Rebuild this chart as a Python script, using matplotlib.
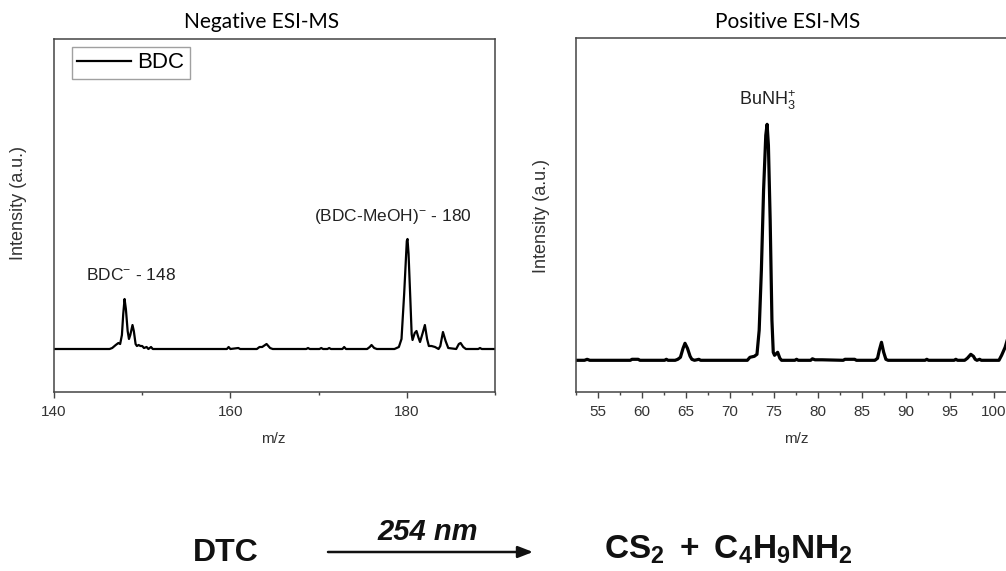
import matplotlib
matplotlib.use("Agg")
import matplotlib.pyplot as plt
from matplotlib.ticker import MultipleLocator

plt.rcParams['font.family'] = ['Liberation Sans', 'DejaVu Sans']
plt.rcParams['mathtext.fontset'] = 'custom'
plt.rcParams['mathtext.rm'] = 'Liberation Sans'
plt.rcParams['mathtext.it'] = 'Liberation Sans:italic'
plt.rcParams['mathtext.bf'] = 'Liberation Sans:bold'

# ---- Negative ESI-MS trace (m/z, relative intensity) ----
neg_mz = [140, 146.3, 146.6, 147.0, 147.3, 147.5, 147.7, 147.85, 148.0, 148.15, 148.35,
          148.5, 148.65, 148.9, 149.05, 149.25, 149.4, 149.6, 149.8, 150.0, 150.2, 150.5,
          150.7, 151.0, 151.2, 159.6, 159.8, 160.0, 160.9, 161.1, 163.0, 163.3, 163.6,
          164.1, 164.5, 164.8, 168.6, 168.8, 169.0, 170.1, 170.3, 170.5, 171.0, 171.2,
          171.4, 172.7, 172.9, 173.1, 175.5, 175.8, 176.0, 176.3, 176.6, 178.6, 179.1,
          179.4, 179.7, 180.0, 180.08, 180.2, 180.4, 180.55, 180.65, 180.9, 181.1, 181.3,
          181.5, 181.8, 182.05, 182.3, 182.5, 182.8, 183.2, 183.6, 183.8, 184.1, 184.4,
          184.7, 185.6, 185.9, 186.1, 186.4, 186.7, 188.1, 188.3, 188.5, 190]
neg_int = [0, 0, 1, 4, 6, 5, 14, 35, 50, 40, 18,
           10, 14, 24, 18, 5, 3, 4, 3, 3, 1, 2,
           0, 2, 0, 0, 2, 0, 1, 0, 0, 2, 2,
           5, 1, 0, 0, 1, 0, 0, 1, 0, 0, 1,
           0, 0, 2, 0, 0, 2, 4, 1, 0, 0, 2,
           10, 55, 108, 110, 95, 50, 15, 9, 16, 18, 12,
           7, 16, 24, 10, 3, 3, 2, 0, 3, 17, 8,
           1, 0, 5, 6, 2, 0, 0, 1, 0, 0]

# ---- Positive ESI-MS trace ----
pos_mz = [52.5, 53.5, 53.8, 54.1, 58.7, 58.9, 59.6, 59.8, 62.6, 62.8, 63.0, 63.8, 64.1,
          64.4, 64.7, 64.92, 65.2, 65.5, 65.7, 66.0, 66.5, 66.7, 72.0, 72.3, 72.8, 73.1,
          73.35, 73.6, 73.85, 74.1, 74.25, 74.4, 74.6, 74.8, 74.95, 75.1, 75.45, 75.7,
          75.9, 77.4, 77.6, 77.8, 79.2, 79.4, 79.7, 80.5, 82.9, 83.1, 84.2, 84.4, 86.5,
          86.8, 87.0, 87.25, 87.5, 87.75, 88.0, 92.2, 92.4, 92.6, 95.5, 95.7, 95.9, 96.7,
          97.0, 97.4, 97.7, 97.9, 98.1, 98.4, 98.6, 100.6, 100.9, 101.3, 101.6, 102.0, 102.5]
pos_int = [0, 0, 1, 0, 0, 1, 1, 0, 0, 1, 0, 0, 1,
           3, 12, 17, 12, 4, 1, 0, 1, 0, 0, 3, 4, 6,
           30, 90, 170, 225, 236, 215, 140, 40, 8, 5, 8, 2,
           0, 0, 1, 0, 0, 1.5, 0.5, 0.5, 0, 1, 1, 0, 0,
           2, 10, 18, 8, 1, 0, 0, 1, 0, 0, 1, 0, 0,
           2, 6, 4, 1, 0, 1, 0, 0, 5, 13, 22, 35, 45]

neg_ticks = [140, 160, 180]
pos_ticks = [55, 60, 65, 70, 75, 80, 85, 90, 95, 100]

W, H = 1006, 571
fig = plt.figure(figsize=(W / 100, H / 100), dpi=100)


def box(x0, y0, x1, y1):
    return [x0 / W, 1 - y1 / H, (x1 - x0) / W, (y1 - y0) / H]


spine_c = '#444444'
text_c = '#333333'


def style(ax):
    for s in ax.spines.values():
        s.set_color(spine_c)
        s.set_linewidth(1.1)
    ax.tick_params(axis='x', which='major', direction='out', length=4, width=1,
                   color=spine_c, labelsize=11, labelcolor=text_c, pad=5)
    ax.tick_params(axis='x', which='minor', direction='out', length=2.5, width=1,
                   color=spine_c)
    ax.tick_params(axis='y', which='both', left=False, right=False, labelleft=False)


# Left panel
ax1 = fig.add_axes(box(54, 39, 495, 392))
ax1.plot(neg_mz, neg_int, color='black', lw=1.6, label='BDC')
ax1.set_xlim(140, 190)
ax1.set_ylim(-43, 310)
ax1.set_xticks(neg_ticks)
ax1.xaxis.set_minor_locator(MultipleLocator(10))
style(ax1)
ax1.set_xlabel('m/z', fontsize=11, color=text_c)
ax1.xaxis.set_label_coords(0.498, -0.112)
ax1.set_ylabel('Intensity (a.u.)', fontsize=13, color=text_c)
ax1.yaxis.set_label_coords(-0.062, 0.535)
leg = ax1.legend(loc='upper left', bbox_to_anchor=(0.04, 0.978), fontsize=16,
                 frameon=True, fancybox=False, handlelength=2.4, handletextpad=0.3,
                 borderpad=0.25, borderaxespad=0)
leg.get_frame().set_edgecolor('#888888')
leg.get_frame().set_linewidth(1.0)
ax1.text(148.75, 74, r'BDC$^{\mathregular{-}}$ - 148', fontsize=12.5, ha='center',
         va='center', color='#222222')
ax1.text(178.45, 132, r'(BDC-MeOH)$^{\mathregular{-}}$ - 180', fontsize=12.5,
         ha='center', va='center', color='#222222')

# Right panel (extends past the figure's right edge)
ax2 = fig.add_axes(box(575.7, 38, 1016.3, 392))
ax2.plot(pos_mz, pos_int, color='black', lw=2.3)
ax2.set_xlim(52.5, 102.57)
ax2.set_ylim(-31.7, 322.3)
ax2.set_xticks(pos_ticks)
ax2.xaxis.set_minor_locator(MultipleLocator(2.5))
style(ax2)
ax2.set_xlabel('m/z', fontsize=11, color=text_c)
ax2.xaxis.set_label_coords(0.5, -0.112)
ax2.set_ylabel('Intensity (a.u.)', fontsize=13, color=text_c)
ax2.yaxis.set_label_coords(-0.058, 0.497)
ax2.text(74.24, 260, r'BuNH$_{\mathregular{3}}^{\mathregular{+}}$', fontsize=13,
         ha='center', va='center', color='#222222')

# Titles
fig.text(262 / W, 1 - 22 / H, 'Negative ESI-MS', fontsize=15, family='Lato',
         ha='center', va='center', color='black')
fig.text(788 / W, 1 - 22 / H, 'Positive ESI-MS', fontsize=15, family='Lato',
         ha='center', va='center', color='black')

# Reaction scheme
fig.text(226 / W, 1 - 553 / H, 'DTC', fontsize=23, fontweight='bold',
         ha='center', va='center', color='#111111')
fig.text(428 / W, 1 - 532 / H, '254 nm', fontsize=21, fontweight='bold',
         style='italic', ha='center', va='center', color='#111111')
fig.add_artist(matplotlib.patches.FancyArrowPatch(
    (328 / W, 1 - 552 / H), (533 / W, 1 - 552 / H), transform=fig.transFigure,
    arrowstyle='-|>,head_length=9,head_width=3.5', lw=1.8, color='#111111',
    mutation_scale=1, shrinkA=0, shrinkB=0))
fig.text(728 / W, 1 - 550 / H,
         r'$\mathbf{CS_2\ +\ C_4H_9NH_2}$', fontsize=24,
         ha='center', va='center', color='#111111')

fig.savefig('out.png', dpi=100)
